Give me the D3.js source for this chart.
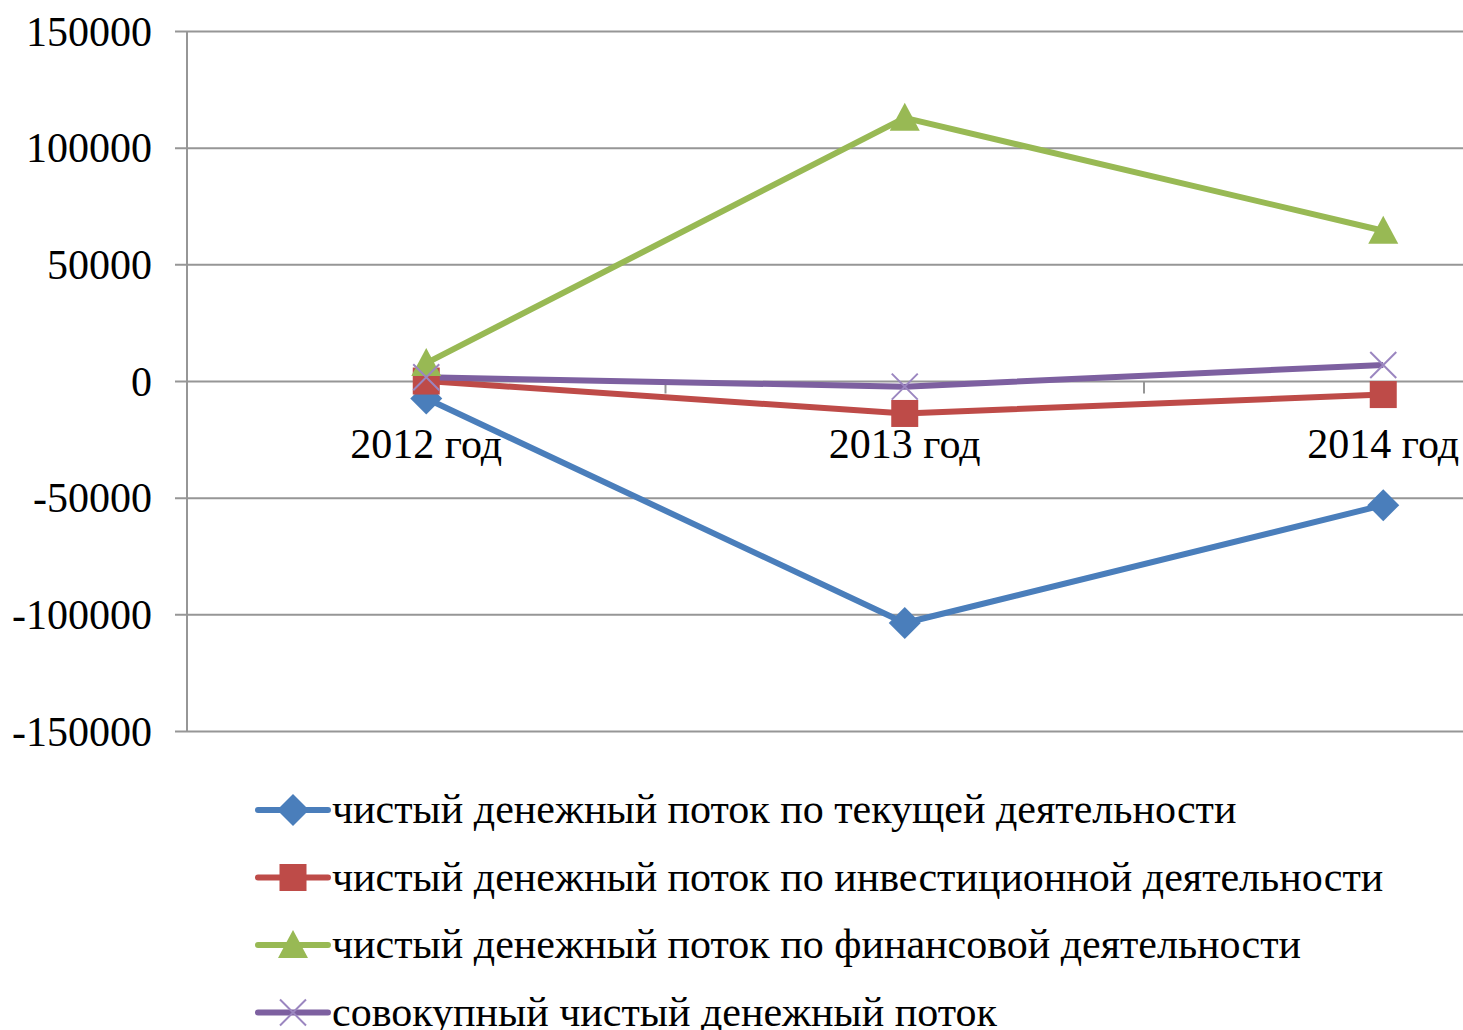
<!DOCTYPE html>
<html>
<head>
<meta charset="utf-8">
<script src="https://cdn.jsdelivr.net/npm/d3@7"></script>
<style>
  body { margin: 0; background: #fff; overflow: hidden; }
  svg { display: block; }
</style>
</head>
<body>
<div id="chart"></div>
<script>
const years = ["2012 год", "2013 год", "2014 год"];
const seriesNames = [
    "чистый денежный поток по текущей деятельности",
    "чистый денежный поток по инвестиционной деятельности",
    "чистый денежный поток по финансовой деятельности",
    "совокупный чистый денежный поток"
];
const operating = [-7300, -103500, -53000];
const investing = [200, -13700, -5600];
const financing = [7900, 113000, 64600];
const total = [1800, -2200, 7100];
const yTicks = [-150000, -100000, -50000, 0, 50000, 100000, 150000];

const colors = ["#4a7ebb", "#be4b48", "#98b954", "#7d60a0"];
const markers = ["diamond", "square", "triangle", "x"];
const values = [operating, investing, financing, total];

const width = 1463, height = 1030;
const plotLeft = 187, plotTop = 31.5, plotBottom = 731.5;
const band = 478.5;
const fontSize = 42;

const svg = d3.select("#chart").append("svg")
    .attr("width", width)
    .attr("height", height)
    .style("font-family", "'Liberation Serif', 'Times New Roman', 'DejaVu Serif', serif");

const x = d3.scaleBand()
    .domain(years)
    .range([plotLeft, plotLeft + band * years.length]);

const y = d3.scaleLinear()
    .domain([-150000, 150000])
    .range([plotBottom, plotTop]);

// gridlines + y labels
svg.append("g")
    .selectAll("line")
    .data(yTicks)
    .join("line")
    .attr("x1", plotLeft - 12)
    .attr("x2", width)
    .attr("y1", d => y(d))
    .attr("y2", d => y(d))
    .attr("stroke", "#969696")
    .attr("stroke-width", 2);

svg.append("g")
    .selectAll("text")
    .data(yTicks)
    .join("text")
    .attr("x", 152)
    .attr("y", d => y(d) + 14)
    .attr("text-anchor", "end")
    .attr("font-size", fontSize)
    .attr("fill", "#000")
    .text(d => d);

// y axis line
svg.append("line")
    .attr("x1", plotLeft).attr("x2", plotLeft)
    .attr("y1", plotTop).attr("y2", plotBottom)
    .attr("stroke", "#969696")
    .attr("stroke-width", 2);

// category tick marks on zero line
svg.append("g")
    .selectAll("line")
    .data(years.slice(1))
    .join("line")
    .attr("x1", d => x(d)).attr("x2", d => x(d))
    .attr("y1", y(0)).attr("y2", y(0) + 12)
    .attr("stroke", "#969696")
    .attr("stroke-width", 2);

// category labels
svg.append("g")
    .selectAll("text")
    .data(years)
    .join("text")
    .attr("x", d => x(d) + x.bandwidth() / 2)
    .attr("y", y(0) + 76)
    .attr("text-anchor", "middle")
    .attr("font-size", fontSize)
    .attr("fill", "#000")
    .text(d => d);

function drawMarker(g, type, color) {
    if (type === "diamond") {
        g.append("path").attr("d", "M0,-16L16,0L0,16L-16,0Z").attr("fill", color);
    } else if (type === "square") {
        g.append("rect").attr("x", -13.5).attr("y", -13.5).attr("width", 27).attr("height", 27).attr("fill", color);
    } else if (type === "triangle") {
        g.append("path").attr("d", "M0,-15L15,13L-15,13Z").attr("fill", color);
    } else {
        g.append("path").attr("d", "M-13,-13L13,13M-13,13L13,-13")
            .attr("stroke", "#9b86c0").attr("stroke-width", 2).attr("fill", "none");
    }
}

const line = d3.line()
    .x((d, i) => x(years[i]) + x.bandwidth() / 2)
    .y(d => y(d));

values.forEach((vals, s) => {
    svg.append("path")
        .datum(vals)
        .attr("d", line)
        .attr("fill", "none")
        .attr("stroke", colors[s])
        .attr("stroke-width", 6)
        .attr("stroke-linejoin", "round");
});

values.forEach((vals, s) => {
    vals.forEach((v, i) => {
        const g = svg.append("g")
            .attr("transform", `translate(${x(years[i]) + x.bandwidth() / 2},${y(v)})`);
        drawMarker(g, markers[s], colors[s]);
    });
});

// legend
const legend = svg.append("g");
seriesNames.forEach((name, s) => {
    const ly = 810 + s * 67.5;
    legend.append("line")
        .attr("x1", 258).attr("x2", 328)
        .attr("y1", ly).attr("y2", ly)
        .attr("stroke", colors[s])
        .attr("stroke-width", 6)
        .attr("stroke-linecap", "round");
    const g = legend.append("g").attr("transform", `translate(293,${ly})`);
    drawMarker(g, markers[s], colors[s]);
    legend.append("text")
        .attr("x", 332)
        .attr("y", ly + 13)
        .attr("font-size", fontSize)
        .attr("fill", "#000")
        .text(name);
});
</script>
</body>
</html>
